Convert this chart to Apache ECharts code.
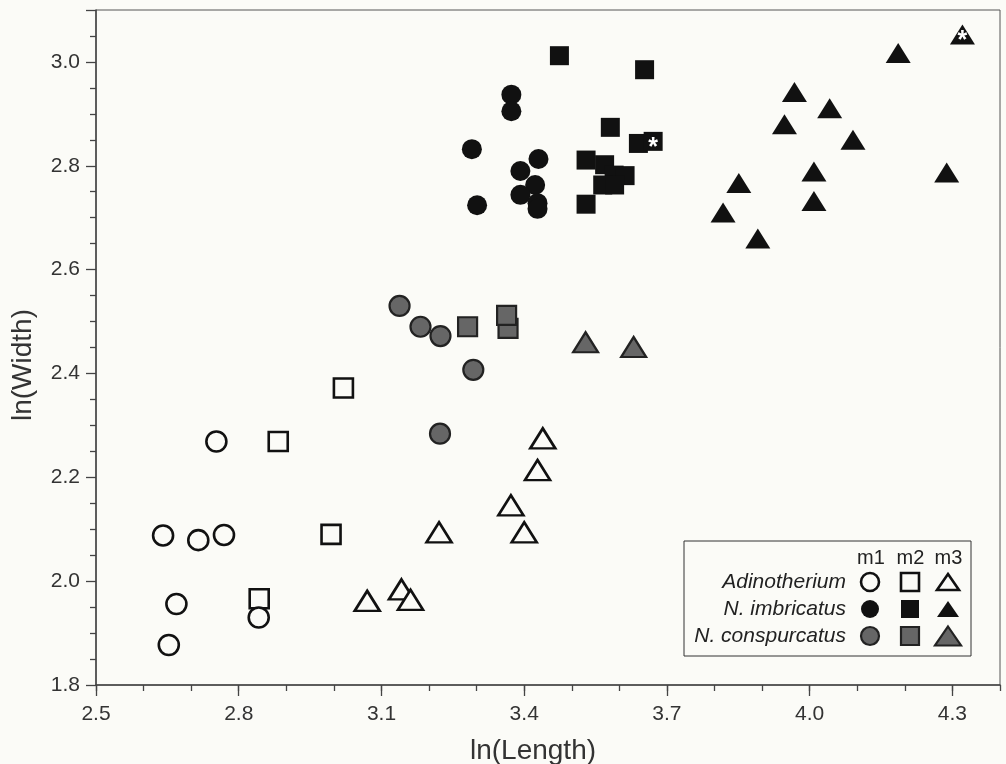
<!DOCTYPE html>
<html>
<head>
<meta charset="utf-8">
<script src="https://cdn.jsdelivr.net/npm/echarts@6/dist/echarts.min.js"></script>
<style>
  html, body { margin: 0; padding: 0; background: #fbfbf7; }
  #main { width: 1006px; height: 764px; }
</style>
</head>
<body>
<div id="main"></div>
<script>
// [ln(Length), ln(Width)]
var adiM1 = [[2.641, 2.088], [2.715, 2.079], [2.769, 2.089], [2.753, 2.269], [2.669, 1.956], [2.842, 1.930], [2.653, 1.877]];
var adiM2 = [[2.883, 2.269], [2.994, 2.090], [2.843, 1.966], [3.020, 2.372]];
var adiM3 = [[3.439, 2.275], [3.428, 2.214], [3.372, 2.146], [3.400, 2.094], [3.221, 2.094], [3.070, 1.962], [3.142, 1.984], [3.161, 1.964]];
var imbM1 = [[3.373, 2.937], [3.373, 2.905], [3.290, 2.832], [3.430, 2.813], [3.392, 2.790], [3.423, 2.763], [3.392, 2.744], [3.301, 2.724], [3.428, 2.728], [3.428, 2.717]];
var imbM2 = [[3.474, 3.012], [3.653, 2.985], [3.581, 2.874], [3.640, 2.843], [3.530, 2.811], [3.569, 2.802], [3.589, 2.782], [3.612, 2.781], [3.565, 2.763], [3.590, 2.763], [3.530, 2.726]];
var imbM2Star = [[3.671, 2.847]];
var imbM3 = [[4.186, 3.017], [3.968, 2.942], [4.042, 2.911], [3.947, 2.880], [4.091, 2.850], [4.009, 2.789], [4.288, 2.787], [3.851, 2.767], [4.009, 2.732], [3.818, 2.710], [3.891, 2.660]];
var imbM3Star = [[4.321, 3.053]];
var conM1 = [[3.138, 2.530], [3.182, 2.490], [3.224, 2.472], [3.293, 2.407], [3.223, 2.284]];
var conM2 = [[3.281, 2.490], [3.366, 2.487], [3.363, 2.512]];
var conM3 = [[3.529, 2.460], [3.630, 2.451]];

var xMajor = [2.5, 2.8, 3.1, 3.4, 3.7, 4.0, 4.3];
var legendRows = ['Adinotherium', 'N. imbricatus', 'N. conspurcatus'];
var legendCols = ['m1', 'm2', 'm3'];

var BG = '#fbfbf7';
var INK = '#111';
var GRAY = '#666';
var AXIS = '#444';

var symCircle = {symbol: 'circle', symbolSize: 20};
var symRect = {symbol: 'rect', symbolSize: 19};
var symTri = {symbol: 'triangle', symbolSize: [25, 20]};

var openStyle = {color: BG, borderColor: INK, borderWidth: 2.6, opacity: 1};
var blackStyle = {color: INK, borderColor: INK, borderWidth: 0, opacity: 1};
var grayStyle = {color: GRAY, borderColor: '#222', borderWidth: 2.2, opacity: 1};

function sc(name, data, sym, style, star) {
    return Object.assign({
        name: name,
        type: 'scatter',
        xAxisIndex: 0,
        yAxisIndex: 0,
        data: data,
        itemStyle: style,
        emphasis: {disabled: true},
        label: star ? {
            show: true,
            formatter: '*',
            position: 'inside',
            color: '#fff',
            fontSize: 25,
            fontWeight: 'bold',
            fontFamily: 'Liberation Sans',
            offset: [0, 7]
        } : {show: false}
    }, sym);
}

var chart = echarts.init(document.getElementById('main'));

// legend graphics (3 x 3 matrix)
var lgX = [870, 910, 948];
var lgY = [582, 609, 636];
var lgStyles = [openStyle, blackStyle, grayStyle];
var legendEls = [{
    type: 'rect',
    shape: {x: 684, y: 541, width: 287, height: 115},
    style: {fill: BG, stroke: '#333', lineWidth: 1},
    z: 10
}];
legendCols.forEach(function (c, j) {
    legendEls.push({
        type: 'text', x: [871, 910.5, 948.5][j], y: 558, z: 11,
        style: {text: c, fontSize: 20, fontFamily: 'Liberation Sans', fill: '#222', align: 'center', verticalAlign: 'middle'}
    });
});
legendRows.forEach(function (r, i) {
    var st = lgStyles[i];
    var fill = st.color, stroke = st.borderColor, lw = st.borderWidth || 0;
    legendEls.push({
        type: 'text', x: 846, y: lgY[i], z: 11,
        style: {text: r, fontSize: 21, fontStyle: 'italic', fontFamily: 'Liberation Sans', fill: '#222', align: 'right', verticalAlign: 'middle'}
    });
    legendEls.push({
        type: 'circle', z: 11, shape: {cx: lgX[0], cy: lgY[i], r: 9},
        style: {fill: fill, stroke: lw ? stroke : null, lineWidth: lw}
    });
    legendEls.push({
        type: 'rect', z: 11, shape: {x: lgX[1] - 9, y: lgY[i] - 9, width: 18, height: 18},
        style: {fill: fill, stroke: lw ? stroke : null, lineWidth: lw}
    });
    var tw = i === 2 ? 13 : 11, th = i === 2 ? 19 : 16;
    legendEls.push({
        type: 'polygon', z: 11,
        shape: {points: [[lgX[2], lgY[i] - th / 2], [lgX[2] + tw, lgY[i] + th / 2], [lgX[2] - tw, lgY[i] + th / 2]]},
        style: {fill: fill, stroke: lw ? stroke : null, lineWidth: lw}
    });
});
legendEls.push({
    type: 'text', x: 533, y: 751, z: 11,
    style: {text: 'ln(Length)', fontSize: 28, fontFamily: 'Liberation Sans', fill: '#333', align: 'center', verticalAlign: 'middle'}
});
legendEls.push({
    type: 'text', x: 23, y: 365, rotation: Math.PI / 2, z: 11,
    style: {text: 'ln(Width)', fontSize: 28, fontFamily: 'Liberation Sans', fill: '#333', align: 'center', verticalAlign: 'middle'}
});

var option = {
    backgroundColor: BG,
    animation: false,
    grid: {left: 96, right: 6, top: 10, bottom: 79, show: true, borderColor: '#555', borderWidth: 1, backgroundColor: 'transparent'},
    xAxis: [{
        type: 'value',
        position: 'bottom',
        min: 2.5,
        max: 4.4,
        axisLine: {lineStyle: {color: AXIS, width: 1.5}},
        axisTick: {customValues: xMajor, length: 11, lineStyle: {color: AXIS, width: 1.3}},
        axisLabel: {
            customValues: xMajor, margin: 19, fontSize: 21, fontFamily: 'Liberation Sans', color: '#333',
            formatter: function (v) { return v.toFixed(1); }
        },
        splitLine: {show: false}
    }, {
        type: 'value',
        position: 'bottom',
        min: 2.5,
        max: 4.4,
        interval: 0.1,
        axisLine: {show: false},
        axisTick: {length: 6, lineStyle: {color: AXIS, width: 1.3}},
        axisLabel: {show: false},
        splitLine: {show: false}
    }],
    yAxis: {
        type: 'value',
        min: 1.8,
        max: 3.1,
        interval: 0.2,
        axisLine: {show: true, lineStyle: {color: AXIS, width: 1.5}},
        axisTick: {show: true, length: 10, lineStyle: {color: AXIS, width: 1.3}},
        minorTick: {show: true, splitNumber: 4, length: 6, lineStyle: {color: AXIS, width: 1.3}},
        axisLabel: {
            margin: 16, fontSize: 21, fontFamily: 'Liberation Sans', color: '#333',
            formatter: function (v) { return v > 3.05 ? '' : v.toFixed(1); }
        },
        splitLine: {show: false}
    },
    graphic: legendEls,
    series: [
        sc('Adinotherium m2', adiM2, symRect, openStyle),
        sc('Adinotherium m1', adiM1, symCircle, openStyle),
        sc('Adinotherium m3', adiM3, symTri, openStyle),
        sc('N. imbricatus m1', imbM1, symCircle, blackStyle),
        sc('N. imbricatus m2', imbM2, symRect, blackStyle),
        sc('N. imbricatus m2 *', imbM2Star, symRect, blackStyle, true),
        sc('N. imbricatus m3', imbM3, symTri, blackStyle),
        sc('N. imbricatus m3 *', imbM3Star, symTri, blackStyle, true),
        sc('N. conspurcatus m1', conM1, symCircle, grayStyle),
        sc('N. conspurcatus m2', conM2, symRect, grayStyle),
        sc('N. conspurcatus m3', conM3, symTri, grayStyle)
    ]
};
chart.setOption(option);
</script>
</body>
</html>
